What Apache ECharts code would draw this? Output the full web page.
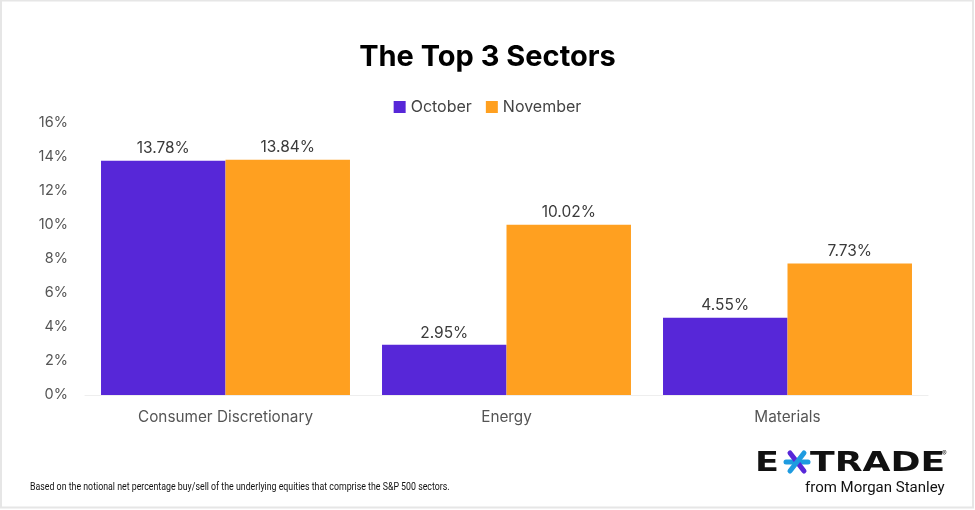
<!DOCTYPE html>
<html>
<head>
<meta charset="utf-8">
<script src="https://cdn.jsdelivr.net/npm/echarts@6/dist/echarts.min.js"></script>
<style>
html,body{margin:0;padding:0;background:#fff;}
#chart{width:975px;height:510px;}
</style>
</head>
<body>
<div id="chart"></div>
<script>
var categories = ['Consumer Discretionary', 'Energy', 'Materials'];
var october = [13.78, 2.95, 4.55];
var november = [13.84, 10.02, 7.73];
var seriesNames = ['October', 'November'];
var yTicks = [0, 2, 4, 6, 8, 10, 12, 14, 16];

var PURPLE = '#5727D8';
var ORANGE = '#FFA020';
var FONT = 'Inter, "Noto Sans", sans-serif';

var chart = echarts.init(document.getElementById('chart'), null, {renderer: 'canvas'});

var labelCfg = {
  show: true,
  position: 'top',
  distance: 4,
  color: '#3a3a3a',
  fontFamily: FONT,
  fontSize: 15.5,
  formatter: function (p) { return p.value.toFixed(2) + '%'; }
};

chart.setOption({
  backgroundColor: '#fff',
  animation: false,
  title: {
    text: 'The Top 3 Sectors',
    left: 'center',
    top: 38,
    textStyle: {fontFamily: FONT, fontWeight: 'bold', fontSize: 29, color: '#000'}
  },
  legend: {
    data: seriesNames,
    top: 94,
    left: 'center',
    itemWidth: 12,
    itemHeight: 12,
    itemGap: 14,
    icon: 'rect',
    textStyle: {fontFamily: FONT, fontSize: 16, color: '#444'}
  },
  grid: {left: 85, right: 47, top: 123, bottom: 115, containLabel: false},
  xAxis: {
    type: 'category',
    data: categories,
    axisLine: {lineStyle: {color: '#eeeeee', width: 1}},
    axisTick: {show: false},
    axisLabel: {fontFamily: FONT, fontSize: 15.3, color: '#555', margin: 15}
  },
  yAxis: {
    type: 'value',
    min: yTicks[0],
    max: yTicks[yTicks.length - 1],
    interval: 2,
    splitLine: {show: false},
    axisLine: {show: false},
    axisTick: {show: false},
    axisLabel: {fontFamily: FONT, fontSize: 14.5, color: '#555', margin: 17, formatter: '{value}%'}
  },
  series: [
    {name: seriesNames[0], type: 'bar', data: october, barGap: '0%', barCategoryGap: '11.4%',
     itemStyle: {color: PURPLE}, label: labelCfg},
    {name: seriesNames[1], type: 'bar', data: november, barGap: '0%', barCategoryGap: '11.4%',
     itemStyle: {color: ORANGE}, label: labelCfg}
  ],
  graphic: [
    {type: 'rect', shape: {x: 1, y: 0.5, width: 972, height: 507}, style: {fill: 'none', stroke: '#e6e6e6', lineWidth: 2}, silent: true},
    {type: 'text', x: 30, y: 482, scaleX: 0.8,
     style: {text: 'Based on the notional net percentage buy/sell of the underlying equities that comprise the S&P 500 sectors.',
             fontFamily: 'Roboto, sans-serif', fontSize: 11, fill: '#111'}},
    {type: 'text', x: 755, y: 450, scaleX: 1.3,
     style: {text: 'E', fontFamily: '"DejaVu Sans", sans-serif', fontWeight: 'bold', fontSize: 27, fill: '#111'}},
    {type: 'group', x: 797, y: 462, children: [
      {type: 'line', shape: {x1: -11, y1: 0, x2: 11, y2: 0}, style: {stroke: '#1E9BE0', lineWidth: 5, lineCap: 'round'}},
      {type: 'line', shape: {x1: -7, y1: -9, x2: 7, y2: 9}, style: {stroke: PURPLE, lineWidth: 5, lineCap: 'round'}},
      {type: 'line', shape: {x1: -7, y1: 9, x2: 7, y2: -9}, style: {stroke: '#1E9BE0', lineWidth: 5, lineCap: 'round'}}
    ]},
    {type: 'text', x: 810, y: 450, scaleX: 1.34,
     style: {text: 'TRADE', fontFamily: '"DejaVu Sans", sans-serif', fontWeight: 'bold', fontSize: 27, fill: '#111'}},
    {type: 'text', x: 942, y: 450, style: {text: '®', fontFamily: FONT, fontSize: 7, fill: '#111'}},
    {type: 'text', x: 805, y: 481,
     style: {text: 'from Morgan Stanley', fontFamily: 'Roboto, sans-serif', fontSize: 15, fill: '#111'}}
  ]
});
</script>
</body>
</html>
